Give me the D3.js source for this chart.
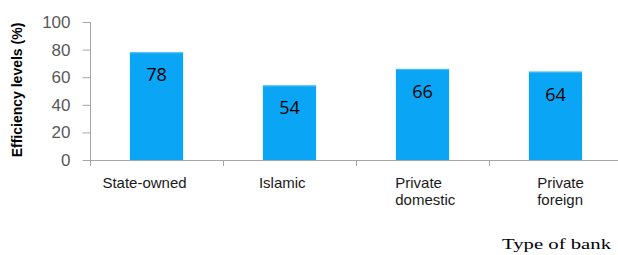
<!DOCTYPE html>
<html>
<head>
<meta charset="utf-8">
<script src="https://cdn.jsdelivr.net/npm/d3@7"></script>
<style>
  html, body { margin: 0; padding: 0; background: #fff; }
  svg { display: block; }
</style>
</head>
<body>
<div id="chart"></div>
<script>
/* Efficiency levels by type of bank — single-series column chart */
var categories = ['State-owned', 'Islamic', 'Private domestic', 'Private foreign'];
var labelLines = [['State-owned'], ['Islamic'], ['Private', 'domestic'], ['Private', 'foreign']];
var efficiency = [78, 54, 66, 64];
var yTicks = [0, 20, 40, 60, 80, 100];

(function () {
  'use strict';
  var W = 618, H = 255;
  var margin = { top: 22, left: 90, bottom: 95 };
  var plotH = H - margin.top - margin.bottom;   /* 138 */
  var bandW = 133;

  var svg = d3.select('#chart').append('svg')
    .attr('width', W).attr('height', H);

  var x = d3.scaleBand().domain(categories)
    .range([margin.left, margin.left + bandW * categories.length])
    .paddingInner(0.6).paddingOuter(0.3);
  var y = d3.scaleLinear().domain([0, 100]).range([margin.top + plotH, margin.top]);

  var axisCol = '#a6a6a6';

  /* bars */
  svg.append('g').selectAll('rect').data(efficiency).enter().append('rect')
    .attr('x', function (d, i) { return x(categories[i]); })
    .attr('y', function (d) { return y(d); })
    .attr('width', x.bandwidth())
    .attr('height', function (d) { return y(0) - y(d); })
    .attr('fill', '#0aa5f5');
  svg.append('g').selectAll('line').data(efficiency).enter().append('line')
    .attr('x1', function (d, i) { return x(categories[i]); })
    .attr('x2', function (d, i) { return x(categories[i]) + x.bandwidth(); })
    .attr('y1', function (d) { return y(d) + 0.5; })
    .attr('y2', function (d) { return y(d) + 0.5; })
    .attr('stroke', '#4cc0f7').attr('stroke-width', 1);

  /* value labels */
  svg.append('g').selectAll('text').data(efficiency).enter().append('text')
    .attr('x', function (d, i) { return x(categories[i]) + x.bandwidth() / 2; })
    .attr('y', function (d) { return y(d) + 29; })
    .attr('text-anchor', 'middle')
    .style('font-family', '"Open Sans", sans-serif')
    .style('font-size', '18px')
    .style('fill', '#000')
    .text(function (d) { return d; });

  /* y axis */
  var yAxis = d3.axisLeft(y).tickValues(yTicks).tickSize(8).tickPadding(12);
  var gy = svg.append('g').attr('transform', 'translate(' + (margin.left + 0.5) + ',0)').call(yAxis);
  gy.select('.domain').attr('stroke', axisCol).attr('d', 'M0,' + y(100) + 'V' + y(0));
  gy.selectAll('.tick line').attr('stroke', axisCol);
  gy.selectAll('.tick text')
    .style('font-family', '"Liberation Sans", Arial, sans-serif')
    .style('font-size', '17px')
    .style('fill', '#595959');

  /* x axis line with band boundary ticks */
  var gx = svg.append('g');
  gx.append('line')
    .attr('x1', margin.left).attr('x2', W)
    .attr('y1', y(0) + 0.5).attr('y2', y(0) + 0.5)
    .attr('stroke', axisCol);
  var bounds = d3.range(categories.length + 1).map(function (i) { return margin.left + i * bandW; });
  gx.selectAll('line.tk').data(bounds).enter().append('line').attr('class', 'tk')
    .attr('x1', function (d) { return d + 0.5; }).attr('x2', function (d) { return d + 0.5; })
    .attr('y1', y(0)).attr('y2', y(0) + 6)
    .attr('stroke', axisCol);

  /* category labels (left-aligned blocks, roughly centred under bars) */
  var labelShift = [-12, -7, 3, 5];
  var lbl = svg.append('g').selectAll('g').data(labelLines).enter().append('text')
    .style('font-family', '"Liberation Sans", Arial, sans-serif')
    .style('font-size', '15px')
    .style('fill', '#1a1a1a');
  lbl.each(function (lines, i) {
    var t = d3.select(this);
    lines.forEach(function (s, k) {
      t.append('tspan').attr('x', 0).attr('y', 188 + k * 17).text(s);
    });
    var w = this.getBBox().width;
    var cx = x(categories[i]) + x.bandwidth() / 2 + labelShift[i];
    t.attr('transform', 'translate(' + (cx - w / 2) + ',0)');
  });

  /* axis titles */
  svg.append('text')
    .attr('transform', 'translate(22,' + 90 + ') rotate(-90)')
    .attr('text-anchor', 'middle')
    .style('font-family', '"Liberation Sans", Arial, sans-serif')
    .style('font-size', '14px').style('font-weight', 'bold')
    .style('fill', '#000')
    .text('Efficiency levels (%)');

  svg.append('text')
    .attr('x', 502).attr('y', 249)
    .attr('textLength', 109).attr('lengthAdjust', 'spacingAndGlyphs')
    .style('font-family', '"Liberation Serif", "Times New Roman", serif')
    .style('font-size', '14px')
    .style('fill', '#000')
    .text('Type of bank');
})();
</script>
</body>
</html>
